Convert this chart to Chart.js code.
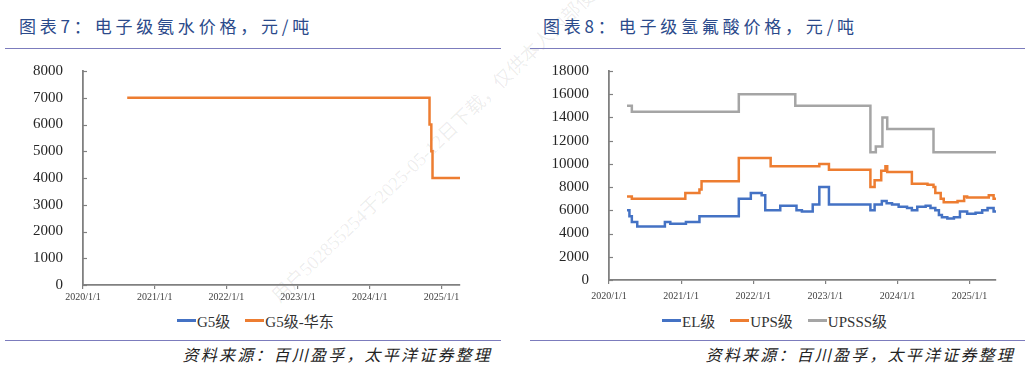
<!DOCTYPE html>
<html>
<head>
<meta charset="utf-8">
<script src="https://cdn.jsdelivr.net/npm/chart.js@4.4.1/dist/chart.umd.min.js"></script>
<style>
  body { margin: 0; width: 1031px; height: 367px; background: #fff; position: relative; overflow: hidden; }
  .title { position: absolute; top: 15px; font: 17px "Noto Sans CJK SC", sans-serif; color: #2b4a8b; letter-spacing: 3.8px; line-height: 22px; white-space: nowrap; }
  .rule { position: absolute; height: 0; border-top: 1.5px solid #7c7cbd; }
  .source { position: absolute; top: 342px; font: italic 16px "Noto Sans CJK SC", sans-serif; color: #222; letter-spacing: 2.2px; white-space: nowrap; text-align: right; }
  .legend { position: absolute; top: 310px; display: flex; font: 15px "Liberation Serif", "Noto Sans CJK SC", serif; color: #333; white-space: nowrap; align-items: center; }
  .legend span.sw { display: inline-block; width: 19px; height: 2.5px; margin-right: 1px; vertical-align: middle; }
  .legend .item { margin-right: 15px; display: flex; align-items: center; }
  .wm { position: absolute; left: 283px; top: 280px; font: 19px "Liberation Serif", "Noto Sans CJK SC", serif; color: rgba(0,0,0,0.08); transform-origin: left bottom; transform: rotate(-44deg); white-space: nowrap; }
  canvas { position: absolute; }
</style>
</head>
<body>
<div class="wm">用户502855254于2025-05-12日下载，仅供本人内部使用，不可传播与复制</div>

<div class="title" style="left:19px">图表7：电子级氨水价格，元/吨</div>
<div class="rule" style="left:5px; width:496px; top:47.5px"></div>
<div class="rule" style="left:5px; width:496px; top:340px"></div>
<div class="source" style="right:539px">资料来源：百川盈孚，太平洋证券整理</div>
<div class="legend" style="left:177px">
  <div class="item"><span class="sw" style="background:#4472c4"></span>G5级</div>
  <div class="item"><span class="sw" style="background:#ed7d31"></span>G5级-华东</div>
</div>
<canvas id="chart7" style="left:0; top:50px; width:515px; height:265px"></canvas>

<div class="title" style="left:543px">图表8：电子级氢氟酸价格，元/吨</div>
<div class="rule" style="left:530px; width:495px; top:47.5px"></div>
<div class="rule" style="left:530px; width:495px; top:340px"></div>
<div class="source" style="right:16px">资料来源：百川盈孚，太平洋证券整理</div>
<div class="legend" style="left:662px">
  <div class="item"><span class="sw" style="background:#4472c4"></span>EL级</div>
  <div class="item"><span class="sw" style="background:#ed7d31"></span>UPS级</div>
  <div class="item"><span class="sw" style="background:#a5a5a5"></span>UPSSS级</div>
</div>
<canvas id="chart8" style="left:515px; top:50px; width:516px; height:265px"></canvas>

<script>
// x values are months since 2020/1/1
const xTickLabels = ['2020/1/1', '2021/1/1', '2022/1/1', '2023/1/1', '2024/1/1', '2025/1/1'];
const xTickMonths = [0, 12, 24, 36, 48, 60];

// 图表7: 电子级氨水
const g5Months = [];
const g5Prices = [];
const g5EastMonths = [7.4, 58.0, 58.3, 58.5, 63.1];
const g5EastPrices = [7000, 6000, 5000, 4000, 4000];

// 图表8: 电子级氢氟酸
const elMonths = [3.0, 3.4, 3.8, 4.7, 9.3, 10.2, 12.8, 15.05, 21.6, 23.6,
  25.4, 26.0, 28.5, 31.2, 32.1, 33.9, 35.0, 36.6, 43.5, 44.2,
  45.4, 46.2, 47.1, 48.2, 49.6, 50.4, 51.3, 52.7, 53.5, 54.3,
  54.9, 55.4, 56.3, 57.4, 58.4, 59.6, 61.0, 62.1, 63.0, 64.0, 64.4];
const elPrices = [6000, 5500, 5000, 4600, 5000, 4850, 5000, 5500, 7000, 7500,
  7300, 6000, 6400, 6000, 5900, 6500, 8000, 6500, 6000, 6500,
  6800, 6600, 6500, 6300, 6200, 6000, 6300, 6400, 6200, 6000,
  5600, 5400, 5300, 5400, 5900, 5700, 5800, 6000, 6200, 5900, 5900];

const upsMonths = [3.0, 3.8, 12.7, 15.05, 15.4, 21.6, 26.9, 35.0, 36.6, 43.5,
  44.2, 45.3, 46.0, 46.3, 50.4, 53.0, 54.0, 54.3, 55.2, 55.7,
  58.0, 59.1, 59.6, 63.2, 64.0, 64.4];
const upsPrices = [7200, 7000, 7500, 7800, 8500, 10500, 9800, 10000, 9500, 8000,
  8600, 9400, 9800, 9300, 8300, 8200, 8000, 7500, 7000, 6700,
  6800, 7200, 7100, 7300, 7000, 7000];

const upsssMonths = [3.0, 3.8, 21.6, 31.0, 43.5, 44.4, 45.5, 46.3, 54.0, 64.4];
const upsssPrices = [15000, 14500, 16000, 15000, 11000, 11500, 14000, 13000, 11000, 11000];

const axisGray = '#808080';
const serif = "'Liberation Serif', 'Times New Roman', serif";

function points(xs, ys) {
  return xs.map((x, i) => ({ x: x, y: ys[i] }));
}

function series(label, xs, ys, color) {
  return {
    label: label,
    data: points(xs, ys),
    borderColor: color,
    backgroundColor: color,
    borderWidth: 2.5,
    pointRadius: 0,
    stepped: true,
    fill: false
  };
}

// small ticks pointing into the plot, like the original
const innerTicks = {
  id: 'innerTicks',
  afterDraw(chart) {
    const ctx = chart.ctx;
    const y = chart.scales.y;
    const left = chart.chartArea.left;
    ctx.save();
    ctx.strokeStyle = axisGray;
    ctx.lineWidth = 1.2;
    y.ticks.forEach(t => {
      const py = Math.round(y.getPixelForValue(t.value)) + 0.5;
      ctx.beginPath();
      ctx.moveTo(left, py);
      ctx.lineTo(left + 4, py);
      ctx.stroke();
    });
    ctx.restore();
  }
};

function makeChart(id, datasets, opt) {
  return new Chart(document.getElementById(id), {
    type: 'line',
    data: { datasets: datasets },
    plugins: [innerTicks],
    options: {
      responsive: false,
      animation: false,
      layout: { padding: { top: opt.padTop, right: opt.padRight, left: 0, bottom: 0 } },
      plugins: { legend: { display: false }, tooltip: { enabled: false } },
      scales: {
        x: {
          type: 'linear',
          min: 0,
          max: opt.xMax,
          afterBuildTicks: s => { s.ticks = xTickMonths.map(v => ({ value: v })); },
          afterFit: s => { s.height = opt.xHeight; },
          ticks: {
            callback: v => xTickLabels[xTickMonths.indexOf(v)],
            maxRotation: 0,
            autoSkip: false,
            padding: opt.xPad,
            color: '#404040',
            font: { family: serif, size: 10 }
          },
          grid: { drawOnChartArea: false, tickLength: 4, color: axisGray, lineWidth: 1.2 },
          border: { color: axisGray, width: 1.8 }
        },
        y: {
          min: 0,
          max: opt.yMax,
          afterFit: s => { s.width = opt.yWidth; },
          ticks: {
            stepSize: opt.yStep,
            padding: 12,
            color: '#262626',
            font: { family: serif, size: 15 },
            callback: v => String(v)
          },
          grid: { display: false },
          border: { color: axisGray, width: 1.8 }
        }
      }
    }
  });
}

function sizeCanvas(id, w, h) {
  const c = document.getElementById(id);
  c.width = w; c.height = h;
}
sizeCanvas('chart7', 515, 265);
sizeCanvas('chart8', 516, 265);

makeChart('chart7', [
  series('G5级', g5Months, g5Prices, '#4472c4'),
  series('G5级-华东', g5EastMonths, g5EastPrices, '#ed7d31')
], { padTop: 14, padRight: 55, xMax: 63.1, xHeight: 30, xPad: 2, yMax: 8000, yStep: 1000, yWidth: 83 });

makeChart('chart8', [
  series('EL级', elMonths, elPrices, '#4472c4'),
  series('UPS级', upsMonths, upsPrices, '#ed7d31'),
  series('UPSSS级', upsssMonths, upsssPrices, '#a5a5a5')
], { padTop: 16, padRight: 35, xMax: 64.4, xHeight: 35, xPad: 6, yMax: 18000, yStep: 2000, yWidth: 94 });
</script>
</body>
</html>
